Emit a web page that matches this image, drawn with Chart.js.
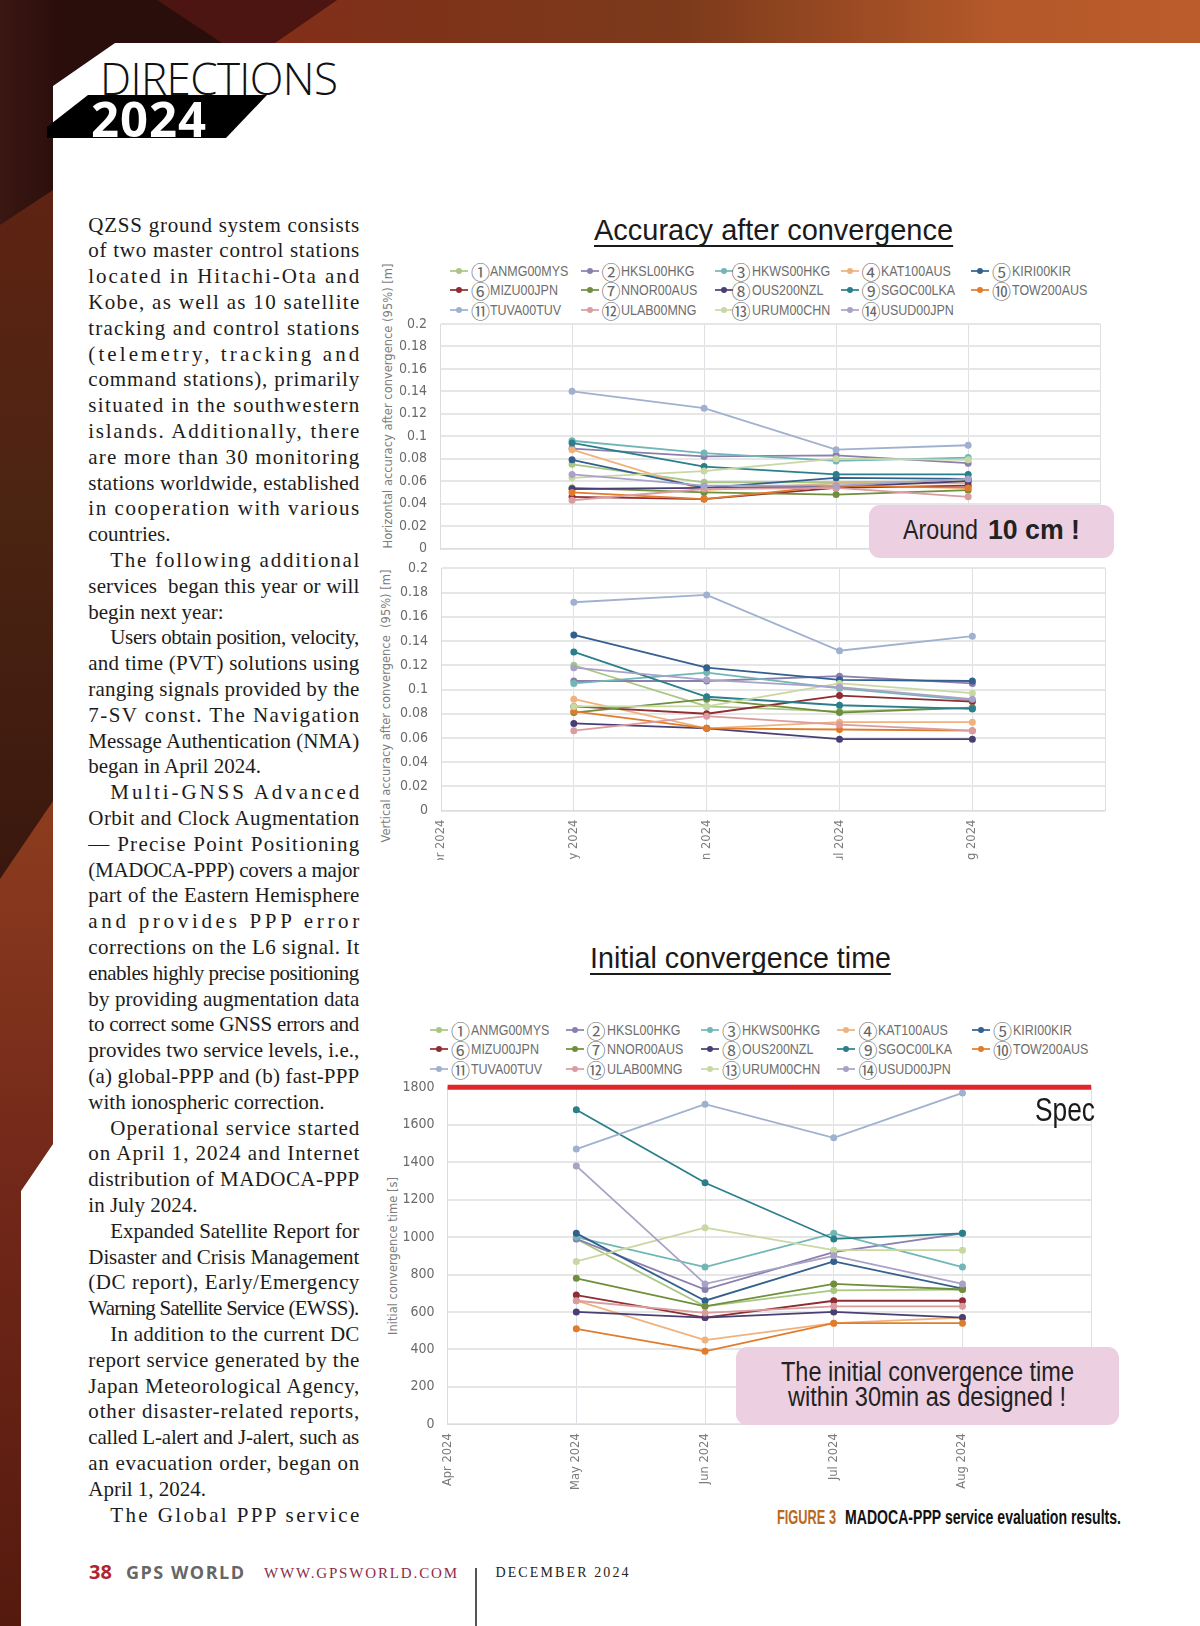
<!DOCTYPE html>
<html>
<head>
<meta charset="utf-8">
<title>MADOCA-PPP service evaluation results</title>
<script src="https://cdn.jsdelivr.net/npm/chart.js@4"></script>
<style>
    html, body { margin: 0; padding: 0; background: #fff; }
    #page { position: relative; width: 1200px; height: 1626px; overflow: hidden; background: #fff; }
    #page div, #page span, #page canvas { position: absolute; white-space: pre; }
    .band { left: 0; top: 0; width: 1200px; height: 1626px; }
    #white { background: #fff; clip-path: polygon(115px 43px, 1200px 43px, 1200px 1626px, 21px 1626px, 21px 1191px, 53px 1144px, 53px 86px); }
    .body-line { font: 21px "Liberation Serif", serif; color: #1c1c1c; left: 88px; line-height: 26px; }
    .narrow { font-family: "Liberation Sans", sans-serif; transform-origin: left center; }
    .heading { font-size: 30px; color: #1a1a1a; border-bottom: 2px solid #1a1a1a; line-height: 31px; }
    .axis-title { font: 11.5px "DejaVu Sans", sans-serif; color: #7c7c7c; transform: translate(-50%, -50%) rotate(-90deg); }
    .callout { background: #ecd0e1; border-radius: 11px; z-index: 5; }
    .callout-text { z-index: 6; color: #222; font-size: 27px; line-height: 30px; }
    .leg-line { height: 2px; width: 18px; transform: translate(-50%, -50%); opacity: .85; }
    .leg-dot { width: 6px; height: 6px; border-radius: 50%; transform: translate(-50%, -50%); }
    .leg-num { font: 19px "Noto Sans CJK JP", sans-serif; color: #666; transform: translate(-50%, -50%); }
    .leg-name { font-size: 14.5px; color: #6e6e6e; transform: translateY(-50%) scaleX(.86); }
    canvas { filter: blur(0.55px); }
</style>
</head>
<body>
<div id="page">
    <div class="band" style="background: linear-gradient(90deg, #3a1712 0, #2a0e0c 60px, #2a0e0c 1200px);"></div>
    <div class="band" style="background: #4c1511; clip-path: polygon(157px 0, 337px 0, 275px 43px, 222px 43px);"></div>
    <div class="band" style="background: linear-gradient(90deg, #8c2318 0, #7f3219 380px, #7c3a1b 680px, #b5592a 1000px, #bb5c2b 1200px); clip-path: polygon(337px 0, 1200px 0, 1200px 43px, 275px 43px);"></div>
    <div class="band" style="background: linear-gradient(180deg, #5f2312 190px, #4c2412 500px, #3a170e 880px); clip-path: polygon(0 225px, 53px 190px, 53px 801px, 0 879px);"></div>
    <div class="band" style="background: linear-gradient(180deg, #8d3c1e 801px, #74291a 1150px, #551a0e 1626px); clip-path: polygon(0 879px, 53px 801px, 53px 1144px, 21px 1191px, 21px 1626px, 0 1626px);"></div>
    <div class="band" id="white"></div>

    <div class="band" style="background: #000; clip-path: polygon(88px 95px, 267px 95px, 226px 138px, 47px 138px, 47px 127px);"></div>
    <div data-w="238" style="left:100px; top:48px; font: 300 44px 'Open Sans', sans-serif; color:#111; line-height:60px;">DIRECTIONS</div>
    <div data-w="115" style="left:91px; top:88px; font: 700 49px 'Open Sans', sans-serif; color:#fff; line-height:60px;">2024</div>

    <div id="column"></div>

    <div class="narrow heading" data-w="359" style="left:594px; top:214px;">Accuracy after convergence</div>
    <div class="axis-title" style="left:388px; top:406px;">Horizontal accuracy after convergence (95%) [m]</div>
    <div id="legendTop"></div>
    <canvas id="horizontalChart" width="706" height="246" style="left:400px; top:314px;"></canvas>
    <div class="callout" style="left:869px; top:505px; width:245px; height:53px;"></div>
    <div class="callout-text narrow" data-w="75" style="left:903px; top:515px;">Around</div>
    <div class="callout-text narrow" data-w="92" style="left:988px; top:515px; font-weight:700;">10 cm !</div>

    <div class="axis-title" style="left:385.5px; top:706px;">Vertical accuracy after convergence&#160;&#160;(95%) [m]</div>
    <canvas id="verticalChart" width="711" height="302" style="left:400px; top:558px;"></canvas>

    <div class="narrow heading" data-w="301" style="left:590px; top:942px;">Initial convergence time</div>
    <div class="axis-title" style="left:393px; top:1256px;">Initial convergence time [s]</div>
    <div id="legendBottom"></div>
    <canvas id="convergenceChart" width="697" height="425" style="left:400px; top:1075px;"></canvas>
    <div class="narrow" data-w="60" style="left:1035px; top:1090px; font-size:33px; line-height:40px; color:#1a1a1a;">Spec</div>
    <div class="callout" style="left:736px; top:1347px; width:383px; height:78px;"></div>
    <div class="callout-text narrow" data-w="293" style="left:781px; top:1357px;">The initial convergence time</div>
    <div class="callout-text narrow" data-w="278" style="left:788px; top:1382px;">within 30min as designed !</div>

    <div class="narrow" data-w="59" style="left:777px; top:1504px; font-weight:700; font-size:20px; line-height:26px; color:#b8691d;">FIGURE 3</div>
    <div class="narrow" data-w="276" style="left:845px; top:1504px; font-weight:700; font-size:20px; line-height:26px; color:#111;">MADOCA-PPP service evaluation results.</div>

    <div data-w="23" style="left:89px; top:1560px; font: 700 20px 'Open Sans', sans-serif; line-height:24px; color:#b0242f;">38</div>
    <div data-w="118" style="left:126px; top:1560px; font: 700 18px 'Open Sans', sans-serif; line-height:24px; color:#666;">GPS WORLD</div>
    <div data-w="193" style="left:264px; top:1561px; font: 15px 'Liberation Serif', serif; line-height:24px; color:#8b2c48;">WWW.GPSWORLD.COM</div>
    <div style="left:475px; top:1568px; width:1.5px; height:58px; background:#555;"></div>
    <div data-w="133" style="left:495.5px; top:1561px; font: 14px 'Liberation Serif', serif; line-height:24px; color:#222;">DECEMBER 2024</div>
</div>

<script>
// --- data ---
const months = ['Apr 2024', 'May 2024', 'Jun 2024', 'Jul 2024', 'Aug 2024', ''];
const stationNames = ['ANMG00MYS', 'HKSL00HKG', 'HKWS00HKG', 'KAT100AUS', 'KIRI00KIR', 'MIZU00JPN', 'NNOR00AUS',
                      'OUS200NZL', 'SGOC00LKA', 'TOW200AUS', 'TUVA00TUV', 'ULAB00MNG', 'URUM00CHN', 'USUD00JPN'];
const stationNumbers = ['①', '②', '③', '④', '⑤', '⑥', '⑦', '⑧', '⑨', '⑩', '⑪', '⑫', '⑬', '⑭'];
const stationColors = ['#a9c682', '#8b7fae', '#72b6b6', '#efb27d', '#33608e', '#8e2d33', '#6f8f3c',
                       '#4a3f74', '#2a7f8b', '#e07c2c', '#a0b1d0', '#da9c9e', '#c9d8a2', '#a8a3c6'];

// May, Jun, Jul, Aug per station, same order as stationNames
const horizontalAccuracy = [
    [0.075, 0.059, 0.059, 0.060],
    [0.089, 0.082, 0.083, 0.076],
    [0.096, 0.085, 0.078, 0.081],
    [0.088, 0.052, 0.058, 0.058],
    [0.079, 0.054, 0.063, 0.062],
    [0.046, 0.044, 0.054, 0.056],
    [0.054, 0.050, 0.048, 0.052],
    [0.053, 0.054, 0.055, 0.060],
    [0.094, 0.073, 0.066, 0.066],
    [0.050, 0.044, 0.056, 0.054],
    [0.140, 0.125, 0.088, 0.092],
    [0.043, 0.053, 0.054, 0.046],
    [0.063, 0.069, 0.080, 0.079],
    [0.066, 0.056, 0.056, 0.062]
];
const verticalAccuracy = [
    [0.120, 0.086, 0.082, 0.085],
    [0.107, 0.107, 0.111, 0.105],
    [0.105, 0.114, 0.101, 0.091],
    [0.092, 0.068, 0.073, 0.073],
    [0.145, 0.118, 0.108, 0.107],
    [0.086, 0.080, 0.095, 0.090],
    [0.081, 0.092, 0.081, 0.085],
    [0.072, 0.068, 0.059, 0.059],
    [0.131, 0.094, 0.087, 0.084],
    [0.082, 0.068, 0.067, 0.066],
    [0.172, 0.178, 0.132, 0.144],
    [0.066, 0.078, 0.071, 0.066],
    [0.086, 0.086, 0.105, 0.097],
    [0.118, 0.108, 0.102, 0.092]
];
const convergenceTime = [
    [990, 630, 715, 720],
    [990, 720, 920, 1020],
    [1000, 840, 1020, 840],
    [660, 450, 540, 570],
    [1020, 660, 870, 725],
    [690, 570, 660, 660],
    [780, 630, 750, 720],
    [600, 570, 600, 570],
    [1680, 1290, 990, 1020],
    [510, 390, 540, 540],
    [1470, 1710, 1530, 1770],
    [660, 595, 630, 630],
    [870, 1050, 930, 930],
    [1380, 750, 900, 750]
];
const specLimit = [1800, 1800, 1800, 1800, 1800, 1800];

const columnLines = [
    'QZSS ground system consists', 'of two master control stations', 'located in Hitachi-Ota and',
    'Kobe, as well as 10 satellite', 'tracking and control stations', '(telemetry, tracking and',
    'command stations), primarily', 'situated in the southwestern', 'islands. Additionally, there',
    'are more than 30 monitoring', 'stations worldwide, established', 'in cooperation with various', 'countries.',
    'The following additional', 'services  began this year or will', 'begin next year:',
    'Users obtain position, velocity,', 'and time (PVT) solutions using', 'ranging signals provided by the',
    '7-SV const. The Navigation', 'Message Authentication (NMA)', 'began in April 2024.',
    'Multi-GNSS Advanced', 'Orbit and Clock Augmentation', '— Precise Point Positioning',
    '(MADOCA-PPP) covers a major', 'part of the Eastern Hemisphere', 'and provides PPP error',
    'corrections on the L6 signal. It', 'enables highly precise positioning', 'by providing augmentation data',
    'to correct some GNSS errors and', 'provides two service levels, i.e.,', '(a) global-PPP and (b) fast-PPP',
    'with ionospheric correction.',
    'Operational service started', 'on April 1, 2024 and Internet', 'distribution of MADOCA-PPP', 'in July 2024.',
    'Expanded Satellite Report for', 'Disaster and Crisis Management', '(DC report), Early/Emergency',
    'Warning Satellite Service (EWSS).',
    'In addition to the current DC', 'report service generated by the', 'Japan Meteorological Agency,',
    'other disaster-related reports,', 'called L-alert and J-alert, such as', 'an evacuation order, began on',
    'April 1, 2024.', 'The Global PPP service'
];
const indentedLines = [13, 16, 22, 35, 39, 43, 50];
const shortLines = [12, 15, 21, 34, 38, 49];

// --- text column ---
const column = document.getElementById('column');
columnLines.forEach(function(text, i) {
    const line = document.createElement('div');
    const indent = indentedLines.includes(i) ? 22 : 0;
    line.className = 'body-line';
    line.textContent = text;
    line.style.left = (88.3 + indent) + 'px';
    line.style.top = (211.5 + i * 25.8) + 'px';
    if (!shortLines.includes(i)) line.dataset.w = 271 - indent;
    column.appendChild(line);
});

// fit a single line of text to the width it has in the page:
// narrow faces are not installed so those get squeezed, the rest get letter spacing
document.querySelectorAll('[data-w]').forEach(function(el) {
    const natural = el.getBoundingClientRect().width;
    const target = parseFloat(el.dataset.w);
    if (el.classList.contains('narrow')) {
        el.style.transform = 'scaleX(' + (target / natural) + ')';
    } else {
        el.style.letterSpacing = ((target - natural) / (el.textContent.length - 1)) + 'px';
    }
});

// --- legends ---
function buildLegend(hostId, lineX, numX, nameX, rowY) {
    const host = document.getElementById(hostId);
    function add(cls, x, y, text, color) {
        const el = document.createElement('span');
        el.className = cls;
        el.style.left = x + 'px';
        el.style.top = y + 'px';
        if (text) el.textContent = text;
        if (color) el.style.background = color;
        host.appendChild(el);
    }
    stationNames.forEach(function(name, i) {
        const col = i % 5;
        const y = rowY[Math.floor(i / 5)];
        add('leg-line', lineX[col], y, '', stationColors[i]);
        add('leg-dot', lineX[col], y, '', stationColors[i]);
        add('leg-num', numX[col], y, stationNumbers[i]);
        add('leg-name narrow', nameX[col], y, name);
    });
}
buildLegend('legendTop', [458.7, 589.6, 724, 850, 980], [480.5, 611, 741, 871, 1001.6], [490, 621, 751.5, 881, 1012], [270.7, 290, 309.7]);
buildLegend('legendBottom', [438.8, 574.6, 710, 845.5, 980.8], [460.6, 596, 731.6, 868, 1002.6], [471, 606.5, 742, 877.5, 1013], [1030, 1049.3, 1069]);

// --- charts ---
function noScalePadding(scale) {
    // keep the plot area exactly where the layout padding and fixed sizes put it
    scale.paddingTop = 0;
    scale.paddingBottom = 0;
    scale.paddingLeft = 0;
    scale.paddingRight = 0;
}

function createChart(canvasId, rows, yMax, yStep, cfg) {
    const datasets = rows.map(function(row, i) {
        return {
            label: stationNames[i],
            data: [null].concat(row, [null]),
            borderColor: stationColors[i],
            backgroundColor: stationColors[i],
            borderWidth: 1.8,
            pointRadius: 2.6,
            tension: 0,
            order: rows.length - i
        };
    });
    if (cfg.limit) {
        datasets.push({ label: 'Spec', data: cfg.limit, borderColor: '#e0262b', borderWidth: 5, pointRadius: 0, clip: false, order: -1 });
    }
    return new Chart(document.getElementById(canvasId), {
        type: 'line',
        data: { labels: months, datasets: datasets },
        options: {
            responsive: false,
            animation: false,
            layout: { padding: { top: cfg.padTop, right: 5, bottom: cfg.padBottom, left: 0 } },
            plugins: { legend: { display: false }, tooltip: { enabled: false } },
            scales: {
                x: {
                    offset: false,
                    grid: { color: '#dde0e4', lineWidth: 1, drawTicks: false },
                    border: { color: '#dcdcdc' },
                    ticks: {
                        display: cfg.showLabels,
                        autoSkip: false,
                        minRotation: 90,
                        maxRotation: 90,
                        padding: 9,
                        color: '#7c7c7c',
                        font: { family: '"DejaVu Sans"', size: 11.5 }
                    },
                    afterFit: function(scale) { scale.height = cfg.xHeight; noScalePadding(scale); }
                },
                y: {
                    min: 0,
                    max: yMax,
                    grid: { color: '#e6e6e6', lineWidth: 2, drawTicks: false },
                    border: { color: '#dcdcdc' },
                    ticks: {
                        stepSize: yStep,
                        padding: 13,
                        color: '#6a6a6a',
                        font: { family: '"DejaVu Sans Condensed", "Liberation Sans"', size: 14 },
                        callback: function(value) { return String(+value.toFixed(2)); }
                    },
                    afterFit: function(scale) { scale.width = cfg.yWidth; noScalePadding(scale); }
                }
            }
        }
    });
}

createChart('horizontalChart', horizontalAccuracy, 0.2, 0.02,
    { padTop: 10, padBottom: 11.5, xHeight: 0, yWidth: 40, showLabels: false });
createChart('verticalChart', verticalAccuracy, 0.2, 0.02,
    { padTop: 10.3, padBottom: 0, xHeight: 49.3, yWidth: 41, showLabels: true });
createChart('convergenceChart', convergenceTime, 1800, 200,
    { padTop: 12.3, padBottom: 0, xHeight: 75.7, yWidth: 47.6, showLabels: true, limit: specLimit });
</script>
</body>
</html>
